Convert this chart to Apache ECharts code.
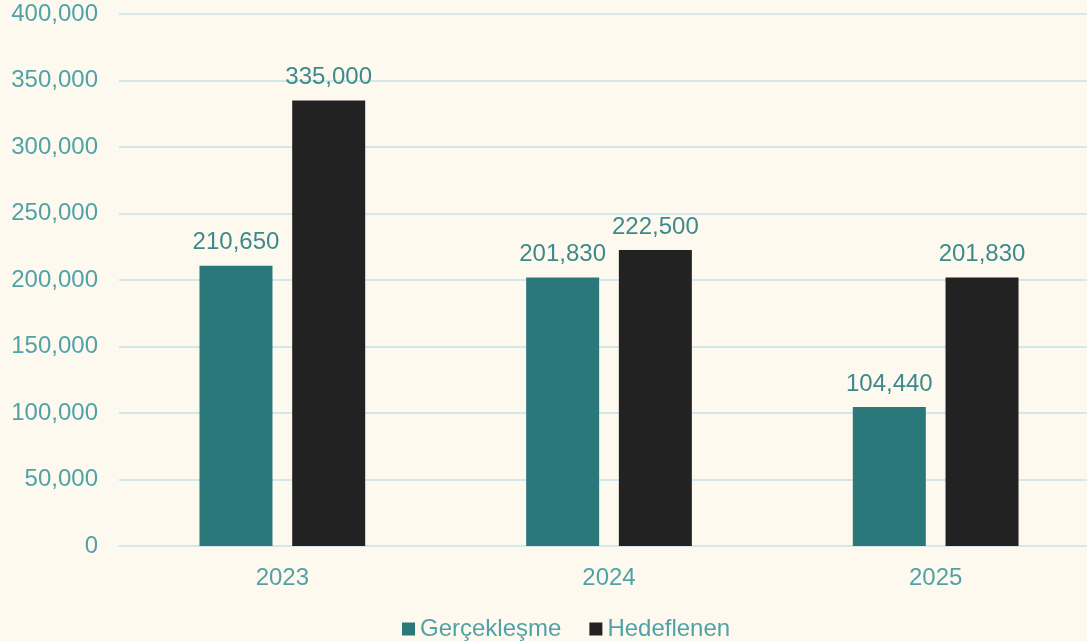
<!DOCTYPE html>
<html>
<head>
<meta charset="utf-8">
<script src="https://cdn.jsdelivr.net/npm/echarts@6/dist/echarts.min.js"></script>
<style>
  html, body { margin: 0; padding: 0; background: #fef9ee; overflow: hidden; }
  #chart { width: 1099px; height: 641px; }
</style>
</head>
<body>
<div id="chart"></div>
<script>
const years = ['2023', '2024', '2025'];
const gerceklesme = [210650, 201830, 104440];
const hedeflenen = [335000, 222500, 201830];

const labelColor = '#4fa3a8';
const valueColor = '#3d8a8c';

var dom = document.getElementById('chart');
var myChart = echarts.init(dom, null, { renderer: 'canvas' });

function fmt(v) {
  return v.toLocaleString('en-US');
}

// the plot area runs a little past the right edge of the window, like the original
var option = {
  backgroundColor: '#fef9ee',
  textStyle: { fontFamily: 'Liberation Sans, Arial, sans-serif' },
  grid: { left: 119, right: 0, top: 14, bottom: 95 },
  legend: {
    left: 397,
    top: 612,
    itemWidth: 13,
    itemHeight: 13,
    itemGap: 28,
    icon: 'rect',
    textStyle: { color: labelColor, fontSize: 24, fontFamily: 'Liberation Sans, Arial, sans-serif' },
    data: ['Gerçekleşme', 'Hedeflenen']
  },
  xAxis: {
    type: 'category',
    data: years,
    axisTick: { show: false },
    axisLine: { lineStyle: { color: '#d2e8ea', width: 2 } },
    axisLabel: { color: labelColor, fontSize: 24, margin: 20 }
  },
  yAxis: {
    type: 'value',
    min: 0,
    max: 400000,
    interval: 50000,
    axisLine: { show: false },
    axisTick: { show: false },
    splitLine: { lineStyle: { color: '#d2e8ea', width: 2 } },
    axisLabel: { color: labelColor, fontSize: 24, margin: 21, formatter: fmt }
  },
  series: [
    {
      name: 'Gerçekleşme',
      type: 'bar',
      data: gerceklesme,
      barWidth: 73,
      barGap: '27%',
      itemStyle: { color: '#2b787b' },
      label: {
        show: true,
        position: 'top',
        distance: 11,
        color: valueColor,
        fontSize: 24,
        formatter: p => fmt(p.value)
      }
    },
    {
      name: 'Hedeflenen',
      type: 'bar',
      data: hedeflenen,
      barWidth: 73,
      itemStyle: { color: '#222222' },
      label: {
        show: true,
        position: 'top',
        distance: 11,
        color: valueColor,
        fontSize: 24,
        formatter: p => fmt(p.value)
      }
    }
  ]
};

myChart.setOption(option);
window.addEventListener('resize', myChart.resize);
</script>
</body>
</html>
